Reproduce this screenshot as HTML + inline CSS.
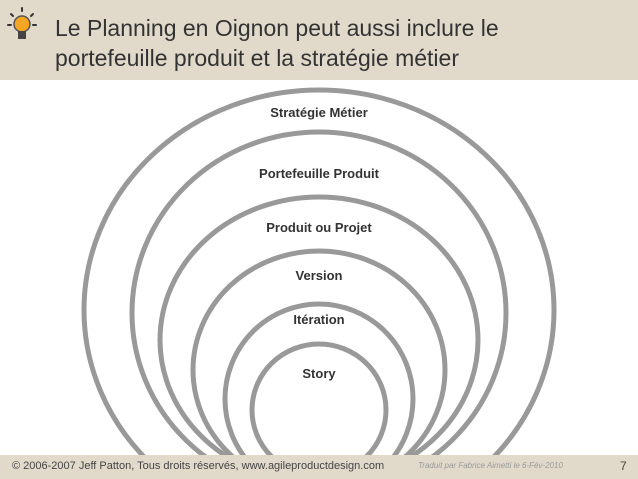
<!DOCTYPE html>
<html><head><meta charset="utf-8"><style>
html,body{margin:0;width:638px;height:479px;overflow:hidden}
body{background:#fff;font-family:"Liberation Sans",sans-serif;position:relative}
.hdr{position:absolute;left:0;top:0;width:638px;height:80px;background:#e1dacb}
.t{position:absolute;left:55px;font-size:23px;color:#333;white-space:nowrap}
.ftr{position:absolute;left:0;top:455px;width:638px;height:24px;background:#e1dacb;font-size:11px;color:#444;overflow:hidden}
.lbl{position:absolute;width:300px;left:169px;text-align:center;font-weight:bold;font-size:13px;color:#333}
</style></head><body>
<svg style="position:absolute;left:0;top:0;display:block" width="638" height="479">
<g fill="none" stroke="#999" stroke-width="5">
<ellipse cx="319" cy="310" rx="235" ry="220"/>
<ellipse cx="319" cy="313" rx="187" ry="181"/>
<ellipse cx="319" cy="340" rx="159" ry="143"/>
<ellipse cx="319" cy="370" rx="126" ry="119"/>
<ellipse cx="319" cy="399" rx="94" ry="95"/>
<ellipse cx="319" cy="410" rx="67" ry="66"/>
</g></svg>
<div class="hdr"></div>
<svg style="position:absolute;left:0;top:0" width="40" height="45">
<g stroke="#333" stroke-width="2" stroke-linecap="round">
<line x1="22" y1="8" x2="22" y2="11"/><line x1="11" y1="14" x2="13" y2="16"/><line x1="33" y1="14" x2="31" y2="16"/>
<line x1="8" y1="25" x2="11" y2="25"/><line x1="36" y1="25" x2="33" y2="25"/></g>
<circle cx="22" cy="24" r="8" fill="#f5a623" stroke="#555" stroke-width="1.5"/>
<rect x="18" y="31" width="8" height="8" fill="#444"/>
</svg>
<div class="t" style="top:15px">Le Planning en Oignon peut aussi inclure le</div>
<div class="t" style="top:45px">portefeuille produit et la stratégie métier</div>
<div class="lbl" style="top:105px">Stratégie Métier</div>
<div class="lbl" style="top:166px">Portefeuille Produit</div>
<div class="lbl" style="top:220px">Produit ou Projet</div>
<div class="lbl" style="top:268px">Version</div>
<div class="lbl" style="top:312px">Itération</div>
<div class="lbl" style="top:366px">Story</div>
<div class="ftr">
<span style="position:absolute;left:12px;top:5px">© 2006-2007 Jeff Patton, Tous droits réservés, www.agileproductdesign.com</span>
<span style="position:absolute;left:418px;top:6px;font-size:8px;font-style:italic;color:#999">Traduit par Fabrice Aimetti le 6-Fév-2010</span>
<span style="position:absolute;left:620px;top:4px;font-size:12px">7</span>
</div>
</body></html>
